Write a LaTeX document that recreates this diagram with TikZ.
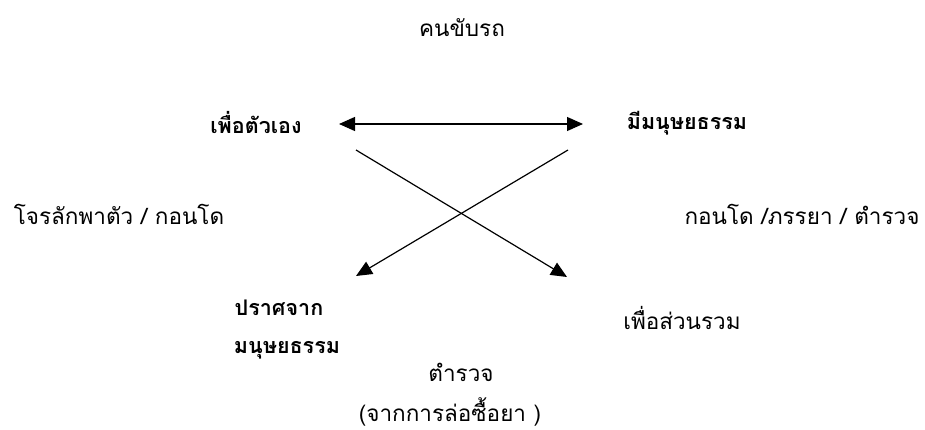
\documentclass[tikz,border=0pt]{standalone}
\usepackage{fontspec}
\newfontfamily\thaifont[Script=Thai]{Loma}
\usetikzlibrary{arrows.meta}
\begin{document}
\begin{tikzpicture}[x=1pt,y=-1pt,
  lbl/.style={font=\thaifont\fontsize{22.5}{26}\selectfont, inner sep=0pt, anchor=center},
  blbl/.style={font=\thaifont\bfseries\fontsize{21.5}{26}\selectfont, inner sep=0pt, anchor=center},
  tip/.tip={Triangle[length=16pt,width=14pt]},
  conn/.style={line width=1.2pt, -tip}]
\useasboundingbox (0,0) rectangle (925,430);
\node[lbl] (driver) at (462,28) {คนขับรถ};
\node[blbl] (self) at (256,123) {เพื่อตัวเอง};
\node[blbl] (hum) at (687,123) {มีมนุษยธรรม};
\node[lbl] (left) at (119,214) {โจรลักพาตัว / กอนโด};
\node[lbl] (right) at (802,214) {กอนโด /ภรรยา / ตำรวจ};
\node[blbl] (without1) at (279,308) {ปราศจาก};
\node[blbl] (without2) at (287,350) {มนุษยธรรม};
\node[lbl] (common) at (682,318) {เพื่อส่วนรวม};
\node[lbl] (police) at (461,372) {ตำรวจ};
\node[lbl] (sting) at (450,412) {(จากการล่อซื้อยา )};
\coordinate (a1) at (339,124);
\coordinate (a2) at (583,124);
\coordinate (b1) at (356,150);
\coordinate (b2) at (567,277);
\coordinate (c1) at (568,150);
\coordinate (c2) at (356,276);
\draw[conn, tip-tip] (a1) -- (a2);
\draw[conn] (b1) -- (b2);
\draw[conn] (c1) -- (c2);
\end{tikzpicture}
\end{document}
